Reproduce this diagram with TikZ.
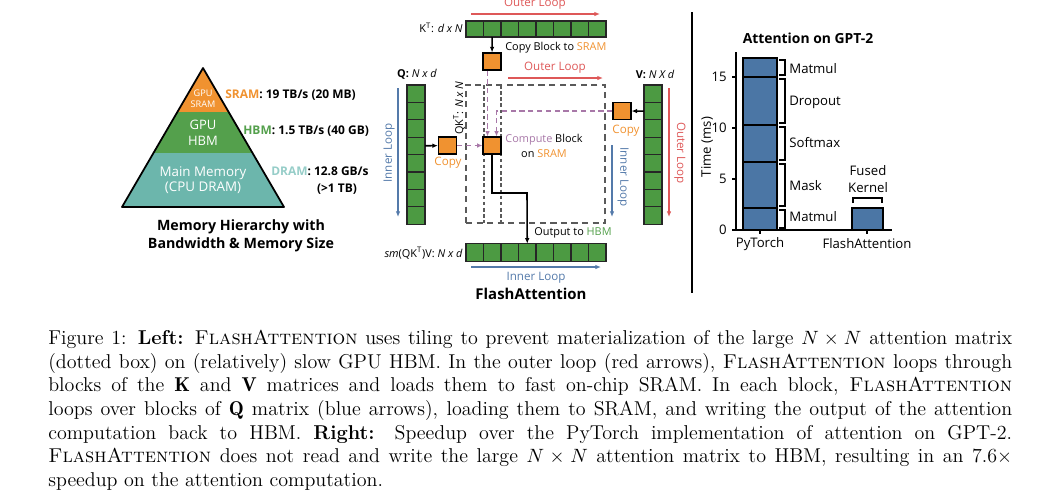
\documentclass[tikz,border=0pt]{standalone}
\usepackage{fontspec}
\newfontfamily\diagfont{Open Sans}
\usetikzlibrary{positioning,arrows.meta}
\definecolor{sramorange}{RGB}{240,146,48}
\definecolor{cellgreen}{RGB}{76,154,66}
\definecolor{hbmgreen}{RGB}{84,160,76}
\definecolor{dramteal}{RGB}{108,182,172}
\definecolor{dramtext}{RGB}{150,205,200}
\definecolor{loopred}{RGB}{222,88,88}
\definecolor{loopblue}{RGB}{84,122,170}
\definecolor{computepurple}{RGB}{168,120,168}
\definecolor{barblue}{RGB}{75,118,165}
\definecolor{boxgray}{RGB}{90,90,90}
\begin{document}
\begin{tikzpicture}[x=0.02cm,y=-0.02cm,font=\diagfont]
		\tikzstyle{cell}=[rectangle,draw=black!85,fill=cellgreen,line width=0.6pt,inner sep=0,outer sep=0,minimum width=3.5mm,minimum height=3.2mm]
		\tikzstyle{ocell}=[cell,minimum height=3.5mm]
		\tikzstyle{vcell}=[cell,minimum width=3.6mm,minimum height=3.48mm]
		\tikzstyle{blk}=[rectangle,draw=black,fill=sramorange,line width=0.6pt,inner sep=0,minimum width=3.6mm,minimum height=3.4mm]
		\tikzstyle{lbl}=[inner sep=0,font=\diagfont\fontsize{6.2}{8.2}\selectfont]
		\tikzstyle{looplbl}=[lbl,font=\diagfont\fontsize{6.6}{8.2}\selectfont]
		\tikzstyle{axlbl}=[inner sep=0,font=\diagfont\fontsize{7.5}{9.5}\selectfont]
		\tikzstyle{pyrlbl}=[inner sep=0,font=\diagfont\bfseries\fontsize{6.8}{8}\selectfont]
		\tikzstyle{title}=[inner sep=0,align=center,font=\diagfont\bfseries\fontsize{8.1}{10.2}\selectfont]
		\tikzstyle{redarrow}=[draw=loopred,line width=0.8pt,-{Latex[length=3.2pt,width=2.6pt]}]
		\tikzstyle{bluearrow}=[draw=loopblue,line width=0.8pt,-{Latex[length=3.2pt,width=2.6pt]}]
		\tikzstyle{blackarrow}=[draw=black,line width=0.9pt,-{Latex[length=3.2pt,width=2.6pt]}]
		\tikzstyle{purplearrow}=[draw=computepurple,line width=0.8pt,dash pattern=on 3pt off 2pt,-{Latex[length=3pt,width=2.6pt]}]
		\tikzstyle{brace}=[draw=black,line width=1pt]
		\useasboundingbox (0,0) rectangle (1041,501);
		
		% memory hierarchy pyramid
		\fill[sramorange] (203,68) -- (228.6,112) -- (177.4,112) -- cycle;
		\fill[hbmgreen] (177.4,112) -- (228.6,112) -- (252.5,153) -- (153.5,153) -- cycle;
		\fill[dramteal] (153.5,153) -- (252.5,153) -- (284,207) -- (122,207) -- cycle;
		\draw[line width=1pt,line join=round] (203,68) -- (284,207) -- (122,207) -- cycle;
		\node[inner sep=0,align=center,text=white,font=\diagfont\fontsize{5.2}{6.2}\selectfont] (sramin) at (203,99) {GPU\\SRAM};
		\node[inner sep=0,align=center,text=white,font=\diagfont\fontsize{7.4}{9}\selectfont] (hbmin) at (203,133) {GPU\\HBM};
		\node[inner sep=0,align=center,text=white,font=\diagfont\fontsize{7.6}{8.8}\selectfont] (dramin) at (203,180) {Main Memory\\(CPU DRAM)};
		\node[pyrlbl,anchor=west] (sramtxt) at (225,95) {\textcolor{sramorange}{SRAM}: 19 TB/s (20 MB)};
		\node[pyrlbl,anchor=west] (hbmtxt) at (243,131) {\textcolor{hbmgreen}{HBM}: 1.5 TB/s (40 GB)};
		\node[pyrlbl,anchor=west] (dramtxt) at (271,171) {\textcolor{dramtext}{DRAM}: 12.8 GB/s};
		\node[pyrlbl] (dramsize) at (337,189) {(>1 TB)};
		\node[title] (memtitle) at (241,236) {Memory Hierarchy with\\Bandwidth \& Memory Size};
		
		% K transpose
		\node[cell] (k1) at (474.75,29) {};
		\node[cell,right=0pt of k1] (k2) {};
		\node[cell,right=0pt of k2] (k3) {};
		\node[cell,right=0pt of k3] (k4) {};
		\node[cell,right=0pt of k4] (k5) {};
		\node[cell,right=0pt of k5] (k6) {};
		\node[cell,right=0pt of k6] (k7) {};
		\node[cell,right=0pt of k7] (k8) {};
		\node[lbl,anchor=east] (klbl) at (463,28) {K\textsuperscript{T}: \textit{d x N}};
		
		% Q
		\node[vcell] (q1) at (416,93.7) {};
		\node[vcell,below=0pt of q1] (q2) {};
		\node[vcell,below=0pt of q2] (q3) {};
		\node[vcell,below=0pt of q3] (q4) {};
		\node[vcell,below=0pt of q4] (q5) {};
		\node[vcell,below=0pt of q5] (q6) {};
		\node[vcell,below=0pt of q6] (q7) {};
		\node[vcell,below=0pt of q7] (q8) {};
		\node[lbl] (qlbl) at (417,74) {\textbf{Q:} \textit{N x d}};
		
		% V
		\node[vcell] (v1) at (653,93.7) {};
		\node[vcell,below=0pt of v1] (v2) {};
		\node[vcell,below=0pt of v2] (v3) {};
		\node[vcell,below=0pt of v3] (v4) {};
		\node[vcell,below=0pt of v4] (v5) {};
		\node[vcell,below=0pt of v5] (v6) {};
		\node[vcell,below=0pt of v6] (v7) {};
		\node[vcell,below=0pt of v7] (v8) {};
		\node[lbl] (vlbl) at (655,74) {\textbf{V:} \textit{N X d}};
		
		% output
		\node[ocell] (o1) at (474.75,252.5) {};
		\node[ocell,right=0pt of o1] (o2) {};
		\node[ocell,right=0pt of o2] (o3) {};
		\node[ocell,right=0pt of o3] (o4) {};
		\node[ocell,right=0pt of o4] (o5) {};
		\node[ocell,right=0pt of o5] (o6) {};
		\node[ocell,right=0pt of o6] (o7) {};
		\node[ocell,right=0pt of o7] (o8) {};
		\node[lbl,anchor=east] (olbl) at (463,253) {\textit{sm}(QK\textsuperscript{T})V: \textit{N x d}};
		
		% attention matrix (never materialized)
		\node[draw=boxgray,line width=0.7pt,dash pattern=on 3.5pt off 2.5pt,inner sep=0,minimum width=2.78cm,minimum height=2.76cm] (attn) at (535.5,154) {};
		\draw[boxgray,line width=0.6pt,dash pattern=on 2pt off 1.5pt] (484,85) -- (484,223) (501,85) -- (501,223);
		\node[lbl,rotate=90] (attnlbl) at (459,108) {QK\textsuperscript{T}: \textit{N x N}};
		
		% SRAM blocks
		\node[blk] (kcopy) at (492,61.5) {};
		\node[blk] (qcopy) at (447.5,145.5) {};
		\node[blk] (comp) at (492,145.5) {};
		\node[blk] (vcopy) at (622,111) {};
		\node[lbl,anchor=west] (kcopylbl) at (505,48) {Copy Block to \textcolor{sramorange}{SRAM}};
		\node[looplbl,text=sramorange] (qcopylbl) at (448,163) {Copy};
		\node[looplbl,text=sramorange] (vcopylbl) at (626,131) {Copy};
		\node[lbl,align=center] (complbl) at (544,146) {\textcolor{computepurple}{Compute} Block\\on \textcolor{sramorange}{SRAM}};
		\node[lbl,anchor=west] (outlbl) at (534,233) {Output to \textcolor{hbmgreen}{HBM}};
		
		\path[blackarrow]
		(k2) edge (kcopy)
		(q4) edge (qcopy)
		(v2) edge (vcopy)
		;
		\coordinate (turn) at (527,193);
		\draw[blackarrow] (comp.south) |- (turn) -- (o4.north);
		\draw[purplearrow] (qcopy) -- (comp);
		\draw[purplearrow] ([xshift=-0.9mm]kcopy.south) -- ([xshift=-0.9mm]comp.north);
		\draw[purplearrow] (vcopy.west) -| ([xshift=0.9mm]comp.north);
		
		% loops
		\coordinate (kloopa) at (471,14);
		\coordinate (kloopb) at (600,14);
		\coordinate (aloopa) at (508,78);
		\coordinate (aloopb) at (603,78);
		\coordinate (qloopa) at (398,88);
		\coordinate (qloopb) at (398,217);
		\coordinate (iloopa) at (612,145);
		\coordinate (iloopb) at (612,217);
		\coordinate (vloopa) at (669,88);
		\coordinate (vloopb) at (669,217);
		\coordinate (oloopa) at (471,267);
		\coordinate (oloopb) at (601,267);
		\draw[redarrow] (kloopa) -- (kloopb);
		\draw[redarrow] (aloopa) -- (aloopb);
		\draw[redarrow] (vloopa) -- (vloopb);
		\draw[bluearrow] (qloopa) -- (qloopb);
		\draw[bluearrow] (iloopa) -- (iloopb);
		\draw[bluearrow] (oloopa) -- (oloopb);
		\node[looplbl,text=loopred] (klooplbl) at (535,4) {Outer Loop};
		\node[looplbl,text=loopred] (alooplbl) at (555,68) {Outer Loop};
		\node[looplbl,text=loopred,rotate=-90] (vlooplbl) at (680,153) {Outer Loop};
		\node[looplbl,text=loopblue,rotate=90] (qlooplbl) at (389,153) {Inner Loop};
		\node[looplbl,text=loopblue,rotate=-90] (ilooplbl) at (623,177) {Inner Loop};
		\node[looplbl,text=loopblue] (olooplbl) at (536,278) {Inner Loop};
		\node[inner sep=0,font=\diagfont\bfseries\fontsize{8.5}{10}\selectfont] (flashtitle) at (531,294) {FlashAttention};
		
		% separator
		\coordinate (septop) at (692,12);
		\coordinate (sepbot) at (692,293);
		\draw[line width=1pt] (septop) -- (sepbot);
		
		% GPT-2 chart
		\node[title,font=\diagfont\bfseries\fontsize{7.9}{10}\selectfont] (charttitle) at (808,38) {Attention on GPT-2};
		\fill[barblue] (743,58) rectangle (777,230);
		\fill[barblue] (852,208) rectangle (883,230);
		\draw[line width=0.9pt] (743,230) rectangle (777,58);
		\draw[line width=0.9pt] (743,208) -- (777,208) (743,162) -- (777,162) (743,125) -- (777,125) (743,77) -- (777,77);
		\draw[line width=0.9pt] (852,230) rectangle (883,208);
		\draw[line width=1pt] (736,52) -- (736,230) -- (892,230);
		\draw[line width=0.8pt] (732,230) -- (736,230) (732,179) -- (736,179) (732,128) -- (736,128) (732,77) -- (736,77);
		\draw[line width=0.8pt] (760,230) -- (760,234) (867,230) -- (867,234);
		\node[axlbl,anchor=east] (t0) at (727,230) {0};
		\node[axlbl,anchor=east] (t5) at (727,179) {5};
		\node[axlbl,anchor=east] (t10) at (727,128) {10};
		\node[axlbl,anchor=east] (t15) at (727,77) {15};
		\node[axlbl,rotate=90] (ylbl) at (707,147) {Time (ms)};
		\node[axlbl] (xpt) at (760,244) {PyTorch};
		\node[axlbl] (xfa) at (867,244) {FlashAttention};
		\draw[brace] (779,228) -- (785,228) -- (785,210) -- (779,210);
		\draw[brace] (779,206) -- (785,206) -- (785,164) -- (779,164);
		\draw[brace] (779,160) -- (785,160) -- (785,127) -- (779,127);
		\draw[brace] (779,123) -- (785,123) -- (785,79) -- (779,79);
		\draw[brace] (779,75) -- (785,75) -- (785,60) -- (779,60);
		\node[axlbl,anchor=west] (mm1) at (789,217) {Matmul};
		\node[axlbl,anchor=west] (mask) at (789,186) {Mask};
		\node[axlbl,anchor=west] (smax) at (789,143) {Softmax};
		\node[axlbl,anchor=west] (drop) at (789,102) {Dropout};
		\node[axlbl,anchor=west] (mm2) at (789,69) {Matmul};
		\draw[brace] (853,203) -- (853,198) -- (882,198) -- (882,203);
		\node[axlbl,align=center] (fused) at (868,179) {Fused\\Kernel};
		
		% caption
		\node[anchor=north west,inner sep=0,text width=19.28cm,align=justify,font=\rmfamily\fontsize{11.4}{13.45}\selectfont] (caption) at (48,330) {Figure 1: \textbf{Left:} \textsc{FlashAttention} uses tiling to prevent materialization of the large $N \times N$ attention matrix\linebreak
		(dotted box) on (relatively) slow GPU HBM. In the outer loop (red arrows), \textsc{FlashAttention} loops through\linebreak
		blocks of the $\mathbf{K}$ and $\mathbf{V}$ matrices and loads them to fast on-chip SRAM. In each block, \textsc{FlashAttention}\linebreak
		loops over blocks of $\mathbf{Q}$ matrix (blue arrows), loading them to SRAM, and writing the output of the attention\linebreak
		computation back to HBM. \textbf{Right:} Speedup over the PyTorch implementation of attention on GPT-2.\linebreak
		\textsc{FlashAttention} does not read and write the large $N \times N$ attention matrix to HBM, resulting in an 7.6$\times$\linebreak
		speedup on the attention computation.};
		
		\end{tikzpicture}
\end{document}
